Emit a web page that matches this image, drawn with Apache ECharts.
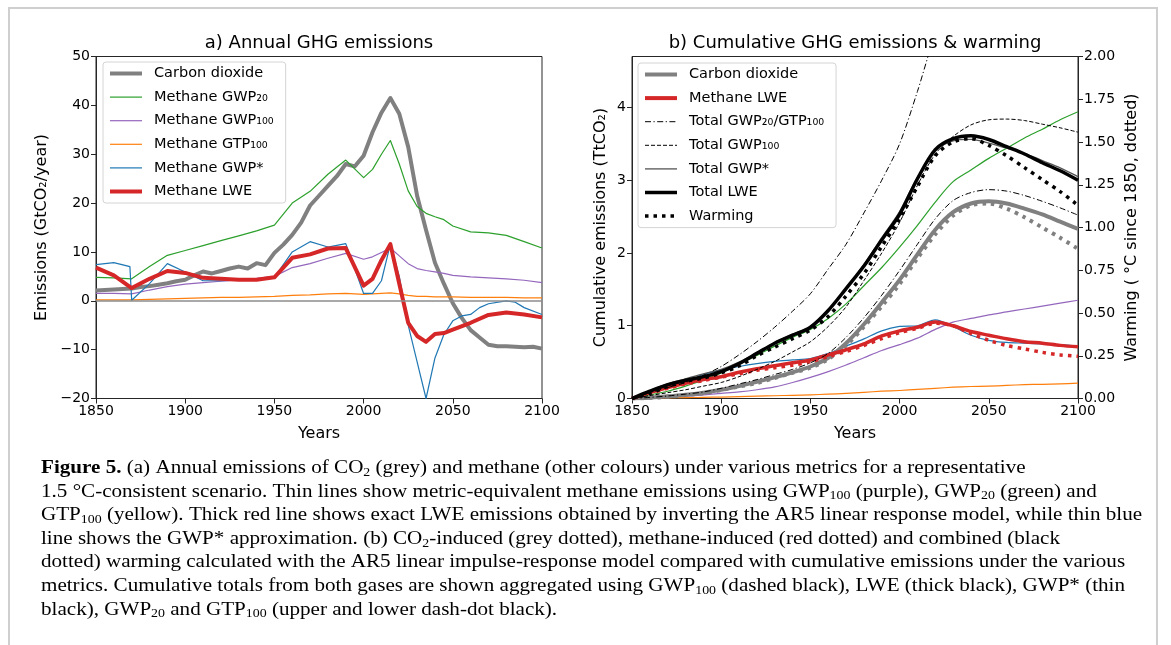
<!DOCTYPE html>
<html>
<head>
<meta charset="utf-8">
<title>Annual and cumulative GHG emissions</title>
<script src="https://cdn.jsdelivr.net/npm/echarts@6.0.0/dist/echarts.min.js"></script>
<style>
  html, body { margin: 0; padding: 0; background: #fff; }
  #chart { width: 1171px; height: 645px; }
</style>
</head>
<body>
<div id="chart"></div>
<script>
// ---- panel a: annual emissions (GtCO2/year) ----
const yearsA = [1850, 1860, 1870, 1880, 1890, 1900, 1910, 1920, 1930, 1940, 1950, 1960, 1970, 1980, 1990,
  2000, 2005, 2010, 2015, 2020, 2025, 2030, 2035, 2040, 2045, 2050, 2060, 2070, 2080, 2090, 2100];
const gwp20A = [4.8, 4.7, 4.5, 7.0, 9.3, 10.3, 11.3, 12.3, 13.3, 14.3, 15.5, 20.0, 22.4, 25.9, 28.8,
  25.2, 26.9, 30.0, 32.8, 28.0, 22.5, 19.3, 17.9, 17.2, 16.6, 15.3, 14.1, 13.9, 13.4, 12.1, 10.8];
const gwp100A = [1.5, 1.5, 1.4, 2.2, 2.9, 3.4, 3.7, 4.0, 4.3, 4.6, 5.0, 6.8, 7.6, 8.7, 9.7,
  8.5, 9.0, 9.9, 10.8, 9.2, 7.6, 6.6, 6.2, 5.9, 5.6, 5.2, 4.9, 4.7, 4.5, 4.2, 3.7];
const gtp100A = [0.2, 0.2, 0.2, 0.3, 0.4, 0.5, 0.6, 0.7, 0.7, 0.8, 0.9, 1.1, 1.2, 1.4, 1.5,
  1.3, 1.4, 1.5, 1.6, 1.4, 1.1, 0.9, 0.9, 0.8, 0.8, 0.8, 0.7, 0.7, 0.7, 0.6, 0.6];
const lweA = [6.8, 5.2, 2.6, 4.5, 6.1, 5.7, 4.7, 4.5, 4.3, 4.3, 4.8, 8.8, 9.5, 10.7, 10.8,
  3.1, 4.5, 8.3, 11.6, 3.5, -4.5, -7.2, -8.4, -6.8, -6.6, -5.9, -4.5, -2.9, -2.4, -2.8, -3.4];

const yearsStar = [1850, 1860, 1869, 1870, 1880, 1890, 1900, 1910, 1920, 1930, 1940, 1950, 1960, 1970, 1980, 1990,
  2000, 2005, 2010, 2015, 2020, 2025, 2030, 2035, 2040, 2045, 2050, 2055, 2060, 2065, 2070, 2080, 2085, 2090, 2100];
const gwpStarA = [7.4, 7.8, 7.0, 0.1, 3.5, 7.6, 5.9, 4.1, 4.1, 4.2, 4.3, 4.8, 10.0, 12.1, 11.0, 11.7,
  1.5, 1.5, 4.1, 11.6, 5.0, -5.0, -12.5, -20.0, -11.7, -6.9, -4.1, -3.1, -2.8, -1.4, -0.6, 0.0, -0.3, -1.4, -2.8];

const yearsCo2 = [1850, 1855, 1860, 1865, 1870, 1875, 1880, 1885, 1890, 1895,
  1900, 1905, 1910, 1915, 1920, 1925, 1930, 1935, 1940, 1945,
  1950, 1955, 1960, 1965, 1970, 1975, 1980, 1985, 1990, 1995,
  2000, 2005, 2010, 2015, 2020, 2025, 2030, 2035, 2040, 2045,
  2050, 2055, 2060, 2065, 2070, 2075, 2080, 2085, 2090, 2095, 2100];
const co2A = [2.1, 2.2, 2.3, 2.4, 2.5, 2.8, 3.0, 3.3, 3.6, 4.0,
  4.3, 5.2, 6.0, 5.6, 6.1, 6.6, 7.0, 6.6, 7.7, 7.3,
  9.8, 11.5, 13.5, 16.0, 19.5, 21.5, 23.5, 25.5, 28.0, 27.5,
  29.7, 34.5, 38.5, 41.5, 38.3, 31.5, 21.5, 14.5, 7.8, 3.5,
  -0.5, -3.5, -6.0, -7.5, -9.0, -9.3, -9.3, -9.4, -9.5, -9.4, -9.8];

// ---- panel b: cumulative emissions (TtCO2) and warming (degC) ----
const yearsB = [1850, 1860, 1870, 1880, 1890, 1900, 1910, 1920, 1930, 1940, 1950, 1960, 1970,
  1980, 1990, 2000, 2010, 2020, 2030, 2040, 2050, 2060, 2070, 2080, 2090, 2100];
const co2Cum = [0, 0.01, 0.03, 0.05, 0.08, 0.12, 0.17, 0.23, 0.29, 0.36, 0.44, 0.56, 0.76,
  1.02, 1.32, 1.63, 1.98, 2.32, 2.56, 2.68, 2.71, 2.68, 2.61, 2.53, 2.43, 2.33];
const lweCum = [0, 0.08, 0.15, 0.21, 0.26, 0.30, 0.36, 0.41, 0.45, 0.49, 0.53, 0.60, 0.67,
  0.75, 0.86, 0.93, 0.98, 1.05, 1.00, 0.92, 0.87, 0.82, 0.78, 0.76, 0.73, 0.71];
const gwpStarCum = [0, 0.10, 0.17, 0.23, 0.33, 0.39, 0.44, 0.48, 0.51, 0.53, 0.55, 0.62, 0.72,
  0.82, 0.93, 0.99, 1.00, 1.08, 0.99, 0.87, 0.80, 0.77, 0.76, 0.75, 0.74, 0.72];
const gwp20Cum = [0, 0.05, 0.10, 0.17, 0.25, 0.35, 0.47, 0.59, 0.72, 0.84, 0.95, 1.10, 1.30,
  1.55, 1.80, 2.08, 2.38, 2.70, 2.98, 3.14, 3.30, 3.44, 3.58, 3.70, 3.83, 3.94];
const gwp100Cum = [0, 0.01, 0.02, 0.03, 0.05, 0.07, 0.09, 0.12, 0.16, 0.22, 0.29, 0.37, 0.46,
  0.56, 0.66, 0.74, 0.83, 0.95, 1.05, 1.10, 1.15, 1.19, 1.23, 1.27, 1.31, 1.35];
const gtp100Cum = [0, 0.004, 0.008, 0.012, 0.016, 0.02, 0.026, 0.032, 0.038, 0.044, 0.05, 0.06, 0.07,
  0.085, 0.10, 0.11, 0.125, 0.14, 0.155, 0.165, 0.17, 0.18, 0.19, 0.195, 0.20, 0.21];
const totalGwp20 = [0, 0.08, 0.15, 0.22, 0.32, 0.44, 0.60, 0.78, 0.98, 1.20, 1.44, 1.78, 2.12,
  2.55, 3.00, 3.50, 4.22, 5.00, 5.50, 5.80, 6.00, 6.10, 6.20, 6.25, 6.28, 6.28];
const totalGtp100 = [0, 0.015, 0.035, 0.06, 0.09, 0.14, 0.20, 0.26, 0.33, 0.40, 0.49, 0.62, 0.84,
  1.11, 1.42, 1.76, 2.12, 2.47, 2.72, 2.83, 2.87, 2.85, 2.79, 2.71, 2.62, 2.52];
const totalGwp100 = [0, 0.04, 0.08, 0.12, 0.17, 0.22, 0.30, 0.40, 0.51, 0.64, 0.78, 0.99, 1.26,
  1.62, 2.00, 2.42, 2.93, 3.36, 3.60, 3.76, 3.83, 3.84, 3.82, 3.77, 3.72, 3.66];
const totalGwpStar = [0, 0.11, 0.20, 0.27, 0.34, 0.40, 0.50, 0.63, 0.77, 0.88, 0.99, 1.21, 1.51,
  1.84, 2.21, 2.57, 3.04, 3.40, 3.54, 3.56, 3.51, 3.44, 3.37, 3.27, 3.17, 3.05];
const totalLwe = [0, 0.10, 0.19, 0.25, 0.30, 0.37, 0.48, 0.62, 0.76, 0.87, 0.98, 1.21, 1.51,
  1.82, 2.18, 2.53, 3.02, 3.42, 3.57, 3.61, 3.56, 3.46, 3.36, 3.24, 3.13, 3.00];
const co2Warm = [0, 0.003, 0.01, 0.02, 0.03, 0.05, 0.07, 0.09, 0.12, 0.15, 0.18, 0.23, 0.31,
  0.42, 0.54, 0.67, 0.82, 0.96, 1.07, 1.13, 1.14, 1.11, 1.06, 1.00, 0.94, 0.875];
const ch4Warm = [0, 0.03, 0.06, 0.085, 0.105, 0.125, 0.145, 0.165, 0.18, 0.195, 0.215, 0.245, 0.275,
  0.31, 0.35, 0.385, 0.41, 0.44, 0.425, 0.38, 0.34, 0.31, 0.29, 0.27, 0.255, 0.247];
const totalWarm = [0, 0.03, 0.07, 0.10, 0.12, 0.15, 0.19, 0.25, 0.30, 0.35, 0.40, 0.48, 0.60,
  0.73, 0.89, 1.05, 1.24, 1.42, 1.50, 1.52, 1.48, 1.42, 1.35, 1.28, 1.21, 1.13];

const cumTicks = [0, 1, 2, 3, 4];

const legendA = ['Carbon dioxide', 'Methane GWP₂₀', 'Methane GWP₁₀₀', 'Methane GTP₁₀₀', 'Methane GWP*', 'Methane LWE'];
const legendB = ['Carbon dioxide', 'Methane LWE', 'Total GWP₂₀/GTP₁₀₀', 'Total GWP₁₀₀', 'Total GWP*', 'Total LWE', 'Warming'];

const captionLines = [
  '{b|Figure 5.} (a) Annual emissions of CO{s|2} (grey) and methane (other colours) under various metrics for a representative',
  '1.5 °C-consistent scenario. Thin lines show metric-equivalent methane emissions using GWP{s|100} (purple), GWP{s|20} (green) and',
  'GTP{s|100} (yellow). Thick red line shows exact LWE emissions obtained by inverting the AR5 linear response model, while thin blue',
  'line shows the GWP* approximation. (b) CO{s|2}-induced (grey dotted), methane-induced (red dotted) and combined (black',
  'dotted) warming calculated with the AR5 linear impulse-response model compared with cumulative emissions under the various',
  'metrics. Cumulative totals from both gases are shown aggregated using GWP{s|100} (dashed black), LWE (thick black), GWP* (thin',
  'black), GWP{s|20} and GTP{s|100} (upper and lower dash-dot black).'
];

const FONT = 'DejaVu Sans';
const SERIF = 'Liberation Serif';
const INK = '#262626';
const GREY = '#808080';
const RED = '#d62728';
const GREEN = '#2ca02c';
const PURPLE = '#9467bd';
const ORANGE = '#ff7f0e';
const BLUE = '#1f77b4';
const DASHDOT = [6, 2.5, 1.2, 2.5];
const DOTS = [3.5, 5];

function pairs(xs, ys) {
  return xs.map((x, i) => [x, ys[i]]);
}

function line(name, panel, xs, ys, color, width, type, extra) {
  return Object.assign({
    name: name,
    type: 'line',
    xAxisIndex: panel,
    yAxisIndex: panel,
    data: pairs(xs, ys),
    symbol: 'none',
    silent: true,
    lineStyle: { color: color, width: width, type: type || 'solid', cap: 'butt', join: 'round' },
    itemStyle: { color: color }
  }, extra || {});
}

const tickText = { fontFamily: FONT, fontSize: 14, color: '#000', margin: 6 };
const axisName = { fontFamily: FONT, fontSize: 16, color: '#000' };

function xAxisFor(grid) {
  return {
    type: 'value', gridIndex: grid, min: 1850, max: 2100, interval: 50,
    name: 'Years', nameLocation: 'middle', nameGap: 27,
    nameTextStyle: axisName,
    axisLine: { show: true, onZero: false, lineStyle: { color: INK } },
    axisTick: { show: true, length: 5, lineStyle: { color: INK } },
    axisLabel: Object.assign({ formatter: v => String(v) }, tickText),
    splitLine: { show: false }
  };
}

function legendFor(names, left, top) {
  return {
    data: names, orient: 'vertical', left: left, top: top,
    itemWidth: 32, itemHeight: 12, itemGap: 8.6,
    padding: [4, 12, 4, 5],
    backgroundColor: 'rgba(255,255,255,0.85)', borderColor: '#d4d4d4', borderWidth: 1, borderRadius: 3,
    selectedMode: false,
    itemStyle: { opacity: 0, borderWidth: 0 },
    lineStyle: { width: 'inherit' },
    textStyle: { fontFamily: FONT, fontSize: 14.5, color: '#000', padding: [0, 0, 0, 7] }
  };
}

const graphics = [
  { type: 'rect', shape: { x: 9, y: 8, width: 1148, height: 700 },
    style: { fill: 'none', stroke: '#cfcfcf', lineWidth: 2 }, silent: true },
  { type: 'text', x: 319, y: 43,
    style: { text: 'a) Annual GHG emissions', align: 'center', verticalAlign: 'middle',
      fontFamily: FONT, fontSize: 18, fill: '#000' } },
  { type: 'text', x: 855, y: 43,
    style: { text: 'b) Cumulative GHG emissions & warming', align: 'center', verticalAlign: 'middle',
      fontFamily: FONT, fontSize: 18, fill: '#000' } }
];
// caption: the journal face is wider than Liberation Serif, so stretch it a little
captionLines.forEach((t, i) => {
  graphics.push({
    type: 'text', x: 41, y: 468 + i * 23.6, scaleX: 1.11,
    style: {
      text: t, align: 'left', verticalAlign: 'middle',
      fontFamily: SERIF, fontSize: 19, lineHeight: 22, fill: '#000',
      rich: {
        b: { fontFamily: SERIF, fontSize: 19, fontWeight: 'bold', lineHeight: 22 },
        s: { fontFamily: SERIF, fontSize: 12.5, lineHeight: 12, verticalAlign: 'bottom' }
      }
    }
  });
});

const chart = echarts.init(document.getElementById('chart'), null, { renderer: 'canvas' });

chart.setOption({
  animation: false,
  backgroundColor: '#fff',
  textStyle: { fontFamily: FONT },
  grid: [
    { left: 96, top: 56.5, width: 446, height: 342, show: true, borderColor: INK, borderWidth: 1, backgroundColor: 'transparent' },
    { left: 632, top: 56.5, width: 446, height: 342, show: true, borderColor: INK, borderWidth: 1, backgroundColor: 'transparent' }
  ],
  xAxis: [xAxisFor(0), xAxisFor(1)],
  yAxis: [
    {
      type: 'value', gridIndex: 0, min: -20, max: 50, interval: 10,
      name: 'Emissions (GtCO₂/year)', nameLocation: 'middle', nameGap: 46, nameRotate: 90,
      nameTextStyle: axisName,
      axisLine: { show: true, onZero: false, lineStyle: { color: INK } },
      axisTick: { show: true, length: 5, lineStyle: { color: INK } },
      axisLabel: Object.assign({ formatter: v => String(v).replace('-', '\u2212') }, tickText),
      splitLine: { show: false }
    },
    {
      type: 'value', gridIndex: 1, min: 0, max: 4.7, interval: 1,
      name: 'Cumulative emissions (TtCO₂)', nameLocation: 'middle', nameGap: 23, nameRotate: 90,
      nameTextStyle: axisName,
      axisLine: { show: true, onZero: false, lineStyle: { color: INK } },
      axisTick: { show: true, length: 5, customValues: cumTicks, lineStyle: { color: INK } },
      axisLabel: Object.assign({ customValues: cumTicks }, tickText),
      splitLine: { show: false }
    },
    {
      type: 'value', gridIndex: 1, position: 'right', min: 0, max: 2, interval: 0.25,
      name: 'Warming ( °C since 1850, dotted)', nameLocation: 'middle', nameGap: 46, nameRotate: 90,
      nameTextStyle: axisName,
      axisLine: { show: true, onZero: false, lineStyle: { color: INK } },
      axisTick: { show: true, length: 5, lineStyle: { color: INK } },
      axisLabel: Object.assign({ formatter: v => v.toFixed(2) }, tickText),
      splitLine: { show: false }
    }
  ],
  legend: [legendFor(legendA, 103, 62), legendFor(legendB, 638, 63)],
  graphic: graphics,
  series: [
    // panel a
    line('Carbon dioxide', 0, yearsCo2, co2A, GREY, 4, 'solid', {
      markLine: {
        silent: true, symbol: 'none', label: { show: false },
        lineStyle: { color: '#8c8c8c', width: 1.5, type: 'solid' },
        data: [{ yAxis: 0 }]
      }
    }),
    line('Methane GWP₂₀', 0, yearsA, gwp20A, GREEN, 1.2),
    line('Methane GWP₁₀₀', 0, yearsA, gwp100A, PURPLE, 1.2),
    line('Methane GTP₁₀₀', 0, yearsA, gtp100A, ORANGE, 1.2),
    line('Methane GWP*', 0, yearsStar, gwpStarA, BLUE, 1.2),
    line('Methane LWE', 0, yearsA, lweA, RED, 4),

    // panel b (left axis is index 1, right axis index 2)
    line('GWP20 methane', 1, yearsB, gwp20Cum, GREEN, 1.2, 'solid', { smooth: 0.3 }),
    line('GWP100 methane', 1, yearsB, gwp100Cum, PURPLE, 1.2, 'solid', { smooth: 0.3 }),
    line('GTP100 methane', 1, yearsB, gtp100Cum, ORANGE, 1.2, 'solid', { smooth: 0.3 }),
    line('GWP* methane', 1, yearsB, gwpStarCum, BLUE, 1.2, 'solid', { smooth: 0.3 }),
    line('Carbon dioxide', 1, yearsB, co2Cum, GREY, 4, 'solid', { smooth: 0.3 }),
    line('CO2 warming', 1, yearsB, co2Warm, GREY, 4, DOTS, { smooth: 0.3, yAxisIndex: 2 }),
    line('Methane LWE', 1, yearsB, lweCum, RED, 3.5, 'solid', { smooth: 0.3 }),
    line('CH4 warming', 1, yearsB, ch4Warm, RED, 3.5, DOTS, { smooth: 0.3, yAxisIndex: 2 }),
    line('Total GWP₂₀/GTP₁₀₀', 1, yearsB, totalGwp20, '#000', 1, DASHDOT, { smooth: 0.3 }),
    line('Total GWP₂₀/GTP₁₀₀', 1, yearsB, totalGtp100, '#000', 1, DASHDOT, { smooth: 0.3 }),
    line('Total GWP₁₀₀', 1, yearsB, totalGwp100, '#000', 1, [4, 2], { smooth: 0.3 }),
    line('Total GWP*', 1, yearsB, totalGwpStar, '#555', 1.3, 'solid', { smooth: 0.3 }),
    line('Total LWE', 1, yearsB, totalLwe, '#000', 3.5, 'solid', { smooth: 0.3 }),
    line('Warming', 1, yearsB, totalWarm, '#000', 3.5, DOTS, { smooth: 0.3, yAxisIndex: 2 })
  ]
});
</script>
</body>
</html>
